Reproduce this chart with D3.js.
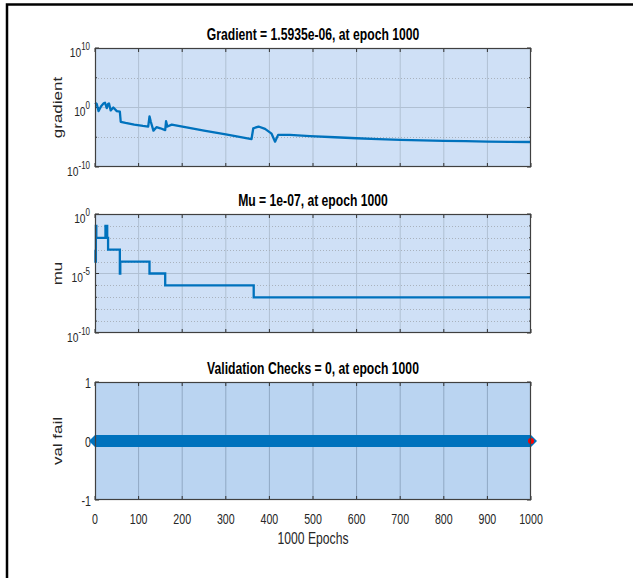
<!DOCTYPE html>
<html>
<head>
<meta charset="utf-8">
<script src="https://cdn.jsdelivr.net/npm/d3@7"></script>
<style>
  body { margin: 0; background: #fff; }
  text { fill: #262626; font-family: 'Liberation Sans', Arial, Helvetica, sans-serif; }
</style>
</head>
<body>
<script>
// training record values
var epochTicks = [0, 100, 200, 300, 400, 500, 600, 700, 800, 900, 1000];

var gradEpochs = [0, 4, 8, 14, 20, 23, 27, 30, 32, 36, 42, 50, 57, 59, 70, 90, 110, 122, 125, 128, 134, 141, 150, 161, 163, 166, 176, 250, 300, 359, 363, 375, 390, 405, 413, 420, 447, 493, 550, 600, 650, 700, 750, 800, 850, 900, 950, 1000];
var gradValues = [6.3, 4.0, 0.25, 1.6, 5.0, 6.3, 0.8, 4.0, 5.0, 0.32, 1.0, 0.25, 0.2, 4e-3, 2.5e-3, 1.3e-3, 8e-4, 6.3e-4, 3.2e-2, 4e-3, 1.3e-4, 5e-4, 3.2e-4, 1.6e-4, 5e-3, 6.3e-4, 1.3e-3, 1.35e-4, 3e-5, 5e-6, 3.2e-4, 6.3e-4, 2.5e-4, 4e-5, 1.8e-6, 2.5e-5, 2.5e-5, 1.6e-5, 1e-5, 6.8e-6, 4.8e-6, 3.6e-6, 2.95e-6, 2.5e-6, 2.2e-6, 1.9e-6, 1.7e-6, 1.5935e-6];

var muEpochs = [0, 1, 2, 3, 24, 28, 30, 57, 58, 125, 161, 364, 1000];
var muValues = [1e-3, 1e-4, 1e-1, 1e-2, 1e-1, 1e-2, 1e-3, 1e-5, 1e-4, 1e-5, 1e-6, 1e-7, 1e-7];

var valEpochs = [0, 1000];
var valFail = [0, 0];

var gradTicks = [1e-10, 1e0, 1e10];
var gradMinor = [1e-5, 1e5];
var muTicks = [1e-10, 1e-5, 1e0];
var muMinor = [1e-9, 1e-8, 1e-7, 1e-6, 1e-4, 1e-3, 1e-2, 1e-1];
var valTicks = [-1, 0, 1];

var titles = ["Gradient = 1.5935e-06, at epoch 1000", "Mu = 1e-07, at epoch 1000", "Validation Checks = 0, at epoch 1000"];
var yLabels = ["gradient", "mu", "val fail"];

var W = 633, H = 578;
var blue = "#0072bd";
var squeeze = 0.76; // the figure is narrower than it is tall

var svg = d3.select("body").append("svg")
  .attr("width", W)
  .attr("height", H);

svg.append("rect").attr("width", W).attr("height", H).attr("fill", "#fff");

// figure frame (top + left only)
svg.append("path")
  .attr("d", "M7,578 V4.5 H633")
  .attr("fill", "none")
  .attr("stroke", "#000")
  .attr("stroke-width", 2.5);

// horizontal text, squeezed sideways around its anchor
function htext(g, tx, ty, anchor, size) {
  return g.append("text")
    .attr("transform", "translate(" + tx + "," + ty + ") scale(" + squeeze + ",1)")
    .attr("text-anchor", anchor)
    .style("font-size", size + "px");
}

var x = d3.scaleLinear().domain([0, 1000]).range([95, 531]);

var panels = [
  { top: 48, bottom: 167, bg: "#cfe0f6", grid: "#b0c0d3", y: d3.scaleLog().domain([1e-10, 1e10]), ticks: gradTicks, minor: gradMinor, log: true },
  { top: 214, bottom: 333, bg: "#cfe0f6", grid: "#b0c0d3", y: d3.scaleLog().domain([1e-10, 1e0]), ticks: muTicks, minor: muMinor, log: true },
  { top: 382, bottom: 500, bg: "#bad4f1", grid: "#90a8c4", y: d3.scaleLinear().domain([-1, 1]), ticks: valTicks, minor: [], log: false }
];

panels.forEach(function(p, i) {
  p.y.range([p.bottom, p.top]);
  var g = svg.append("g");

  g.append("rect")
    .attr("x", 95).attr("y", p.top)
    .attr("width", 436).attr("height", p.bottom - p.top)
    .attr("fill", p.bg);

  // vertical grid
  g.selectAll(".vg").data(epochTicks.slice(1, -1)).enter().append("line")
    .attr("x1", function(d) { return x(d); }).attr("x2", function(d) { return x(d); })
    .attr("y1", p.top).attr("y2", p.bottom)
    .attr("stroke", p.grid).attr("stroke-width", 1);

  // minor dotted grid
  g.selectAll(".mg").data(p.minor).enter().append("line")
    .attr("x1", 95).attr("x2", 531)
    .attr("y1", function(d) { return Math.round(p.y(d)) + 0.5; })
    .attr("y2", function(d) { return Math.round(p.y(d)) + 0.5; })
    .attr("stroke", "#a9b2bd").attr("stroke-width", 1)
    .attr("stroke-dasharray", "1,2");

  // major horizontal grid
  g.selectAll(".hg").data(p.ticks.slice(1, -1)).enter().append("line")
    .attr("x1", 95).attr("x2", 531)
    .attr("y1", function(d) { return p.y(d); }).attr("y2", function(d) { return p.y(d); })
    .attr("stroke", p.grid).attr("stroke-width", 1);

  // ticks inside, all four sides
  epochTicks.forEach(function(t) {
    g.append("line").attr("x1", x(t)).attr("x2", x(t)).attr("y1", p.bottom).attr("y2", p.bottom - 4).attr("stroke", "#333");
    g.append("line").attr("x1", x(t)).attr("x2", x(t)).attr("y1", p.top).attr("y2", p.top + 4).attr("stroke", "#333");
  });
  p.ticks.forEach(function(t) {
    g.append("line").attr("x1", 95).attr("x2", 99).attr("y1", p.y(t)).attr("y2", p.y(t)).attr("stroke", "#333");
    g.append("line").attr("x1", 531).attr("x2", 527).attr("y1", p.y(t)).attr("y2", p.y(t)).attr("stroke", "#333");
  });
  p.minor.forEach(function(t) {
    g.append("line").attr("x1", 95).attr("x2", 97).attr("y1", p.y(t)).attr("y2", p.y(t)).attr("stroke", "#333");
    g.append("line").attr("x1", 531).attr("x2", 529).attr("y1", p.y(t)).attr("y2", p.y(t)).attr("stroke", "#333");
  });

  // y tick labels
  p.ticks.forEach(function(t) {
    if (p.log) {
      var tx = htext(g, 90, p.y(t) + 8.5, "end", 13.5);
      tx.append("tspan").text("10");
      tx.append("tspan").attr("dy", -7).style("font-size", "10.5px").text(String(Math.round(Math.log10(t))));
    } else {
      htext(g, 91, p.y(t) + 6, "end", 14).text(String(t));
    }
  });

  // title
  htext(g, 313, p.top - 8.5, "middle", 16)
    .style("font-weight", "bold")
    .style("fill", "#000")
    .text(titles[i]);

  // y label
  g.append("text")
    .attr("transform", "translate(62," + ((p.top + p.bottom) / 2) + ") rotate(-90) scale(1," + squeeze + ")")
    .attr("text-anchor", "middle")
    .style("font-size", "17px")
    .text(yLabels[i]);

  p.g = g;
});

// gradient line
var pg = panels[0];
pg.g.append("path")
  .datum(gradEpochs.map(function(e, i) { return [e, gradValues[i]]; }))
  .attr("fill", "none").attr("stroke", blue).attr("stroke-width", 2.3)
  .attr("stroke-linejoin", "round")
  .attr("d", d3.line().x(function(d) { return x(d[0]); }).y(function(d) { return pg.y(d[1]); }));

// mu line
var pm = panels[1];
pm.g.append("path")
  .datum(muEpochs.map(function(e, i) { return [e, muValues[i]]; }))
  .attr("fill", "none").attr("stroke", blue).attr("stroke-width", 2.3)
  .attr("d", d3.line().curve(d3.curveStepAfter).x(function(d) { return x(d[0]); }).y(function(d) { return pm.y(d[1]); }));

// val fail: thick line with diamond markers
var pv = panels[2];
var valData = valEpochs.map(function(e, i) { return [e, valFail[i]]; });
pv.g.append("path")
  .datum(valData)
  .attr("fill", "none").attr("stroke", blue).attr("stroke-width", 12)
  .attr("d", d3.line().x(function(d) { return x(d[0]); }).y(function(d) { return pv.y(d[1]); }));
pv.g.selectAll(".dm").data(valData).enter().append("path")
  .attr("transform", function(d) { return "translate(" + x(d[0]) + "," + pv.y(d[1]) + ") rotate(45)"; })
  .attr("d", d3.symbol().type(d3.symbolSquare).size(72))
  .attr("fill", blue);
var best = valData[valData.length - 1];
pv.g.append("circle")
  .attr("cx", x(best[0])).attr("cy", pv.y(best[1])).attr("r", 3)
  .attr("fill", "#ff0000");

// axes boxes on top
panels.forEach(function(p) {
  svg.append("rect")
    .attr("x", 95.5).attr("y", p.top + 0.5)
    .attr("width", 435).attr("height", p.bottom - p.top - 1)
    .attr("fill", "none").attr("stroke", "#404040").attr("stroke-width", 1.2);
});

// x tick labels (bottom panel only)
epochTicks.forEach(function(d) {
  htext(svg, x(d), 523.5, "middle", 14).text(d);
});

htext(svg, 313, 544, "middle", 16).text("1000 Epochs");
</script>
</body>
</html>
